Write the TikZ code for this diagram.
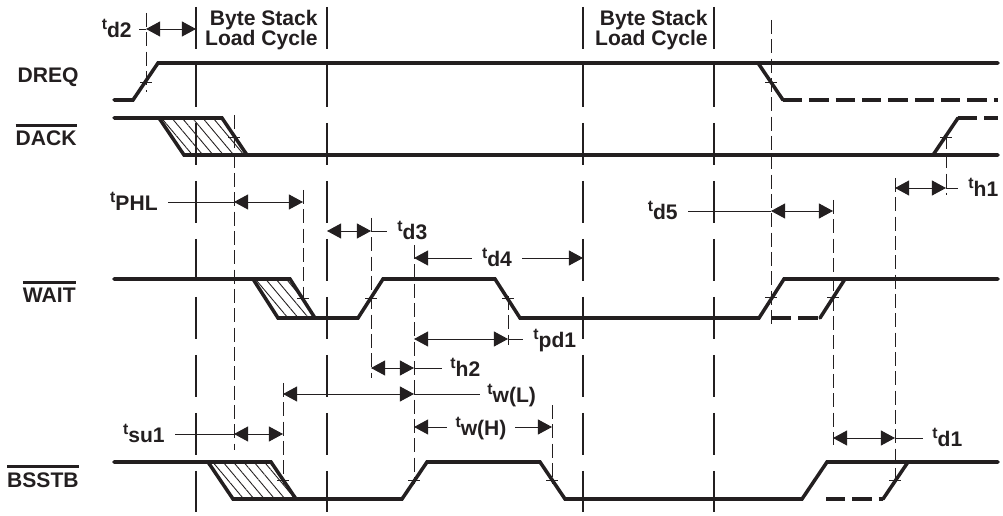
\documentclass[tikz,border=0pt]{standalone}
\usepackage{fontspec}
\setmainfont{Liberation Sans}
\usepackage{xcolor}
\usepackage{tikz}
\usetikzlibrary{arrows.meta, patterns.meta}
\definecolor{sigdark}{RGB}{35,31,32}
\newcommand{\tlab}[1]{\raisebox{4.8pt}{\fontsize{9}{9}\selectfont t}#1}
\newcommand{\sigbar}[1]{\setbox0=\hbox{#1}\rlap{\rule[\dimexpr\ht0+2.6pt\relax]{\wd0}{1.5pt}}\box0}
\tikzset{
  sig/.style={line width=2pt, color=sigdark, line cap=round},
  sigalt/.style={line width=2pt, color=sigdark, dash pattern=on 11pt off 4pt},
  cycline/.style={line width=1.3pt, color=sigdark, dash pattern=on 0.84cm off 0.32cm},
  guide/.style={line width=0.55pt, color=sigdark, dash pattern=on 8pt off 3pt},
  dimline/.style={line width=0.55pt, color=sigdark},
  hatch/.style={pattern={Lines[angle=-50, distance=4.5pt, line width=0.5pt]}, pattern color=sigdark},
  lbl/.style={inner sep=0pt, text=sigdark, font=\fontsize{12}{10.2}\selectfont\bfseries},
  >={Triangle[length=8pt, width=8.5pt]}
}

\begin{document}
\begin{tikzpicture}[x=0.02cm, y=-0.02cm]
    \useasboundingbox (0,0) rectangle (1003,516);

    \node[lbl, anchor=base east] (dreq) at (79,83) {DREQ};
    \node[lbl, anchor=base east] (dack) at (77,146) {\sigbar{DACK}};
    \node[lbl, anchor=base east] (wait) at (76,303) {\sigbar{WAIT}};
    \node[lbl, anchor=base east] (bsstb) at (79,487) {\sigbar{BSSTB}};
    \node[lbl, align=right, anchor=north east] (cycone) at (318,10) {Byte Stack\\[-1pt]Load Cycle};
    \node[lbl, align=right, anchor=north east] (cyctwo) at (708,10) {Byte Stack\\[-1pt]Load Cycle};

    \foreach \x in {196,327,583,714}
      \draw[cycline] (\x,7) -- (\x,512);
    \foreach \x/\ya/\yb in {146/13/92, 234/115/450, 303/190/302, 371/218/378, 414/245/484, 508/296/345,
        283/383/484, 552/405/484, 771/20/325, 833/200/445, 895/178/484, 946/135/195}
      \draw[guide] (\x,\ya) -- (\x,\yb);

    \fill[hatch] (159,118) -- (222,118) -- (247,155) -- (184,155) -- cycle;
    \fill[hatch] (253,279) -- (290,279) -- (315,318) -- (278,318) -- cycle;
    \fill[hatch] (208,462) -- (271,462) -- (296,499) -- (233,499) -- cycle;

    \draw[sig] (114,100) -- (133,100) -- (158,63) -- (998,63);
    \draw[sig] (758,63) -- (783,100);
    \draw[sigalt] (783,100) -- (998,100);

    \draw[sig] (114,118) -- (222,118) -- (247,155) -- (998,155);
    \draw[sig] (159,118) -- (184,155) -- (247,155);
    \draw[sig] (933,155) -- (958,118);
    \draw[sigalt] (958,118) -- (998,118);

    \draw[sig] (114,279) -- (290,279) -- (315,318);
    \draw[sig] (253,279) -- (278,318) -- (358,318) -- (383,279) -- (495,279) -- (520,318) -- (759,318) -- (784,279) -- (998,279);
    \draw[sigalt] (772,318) -- (820,318);
    \draw[sig] (820,318) -- (845,279);

    \draw[sig] (114,462) -- (271,462) -- (296,499);
    \draw[sig] (208,462) -- (233,499) -- (402,499) -- (427,462) -- (540,462) -- (565,499) -- (802,499) -- (827,462) -- (998,462);
    \draw[sigalt] (826,499) -- (883,499);
    \draw[sig] (883,499) -- (908,462);

    \foreach \x/\y in {146/82, 234/137, 771/82, 946/137, 303/298, 371/298, 508/298, 771/297, 833/297,
        283/480, 414/480, 552/480, 895/480}
      \draw[dimline] (\x-6,\y) -- (\x+6,\y);

    \draw[dimline] (139,29) -- (146,29);
    \draw[dimline, <->] (146,29) -- (196,29);
    \node[lbl, anchor=base east] (tdtwo) at (132,37.5) {\tlab{d2}};

    \draw[dimline] (168,202) -- (234,202);
    \draw[dimline, <->] (234,202) -- (303,202);
    \node[lbl, anchor=base east] (tphl) at (158,210.5) {\tlab{PHL}};

    \draw[dimline, <->] (327,231) -- (371,231);
    \draw[dimline] (371,231) -- (387,231);
    \node[lbl, anchor=base west] (tdthree) at (397,239.5) {\tlab{d3}};

    \draw[dimline, <-] (414,258) -- (472,258);
    \draw[dimline, ->] (522,258) -- (583,258);
    \node[lbl, anchor=base] (tdfour) at (497,266.5) {\tlab{d4}};

    \draw[dimline, <->] (414,339) -- (508,339);
    \draw[dimline] (508,339) -- (523,339);
    \node[lbl, anchor=base west] (tpdone) at (533,347.5) {\tlab{pd1}};

    \draw[dimline, <->] (371,368) -- (414,368);
    \draw[dimline] (414,368) -- (442,368);
    \node[lbl, anchor=base west] (thtwo) at (450,376.5) {\tlab{h2}};

    \draw[dimline, <->] (283,394) -- (414,394);
    \draw[dimline] (414,394) -- (480,394);
    \node[lbl, anchor=base west] (twl) at (487,402.5) {\tlab{w(L)}};

    \draw[dimline, <-] (414,427) -- (447,427);
    \draw[dimline, ->] (515,427) -- (552,427);
    \node[lbl, anchor=base] (twh) at (481,435.5) {\tlab{w(H)}};

    \draw[dimline] (175,434) -- (234,434);
    \draw[dimline, <->] (234,434) -- (283,434);
    \node[lbl, anchor=base east] (tsuone) at (165,442.5) {\tlab{su1}};

    \draw[dimline] (688,211) -- (771,211);
    \draw[dimline, <->] (771,211) -- (833,211);
    \node[lbl, anchor=base east] (tdfive) at (678,219.5) {\tlab{d5}};

    \draw[dimline, <->] (895,188) -- (946,188);
    \draw[dimline] (946,188) -- (958,188);
    \node[lbl, anchor=base west] (thone) at (968,196.5) {\tlab{h1}};

    \draw[dimline, <->] (833,438) -- (895,438);
    \draw[dimline] (895,438) -- (923,438);
    \node[lbl, anchor=base west] (tdone) at (932,446.5) {\tlab{d1}};
\end{tikzpicture}
\end{document}
